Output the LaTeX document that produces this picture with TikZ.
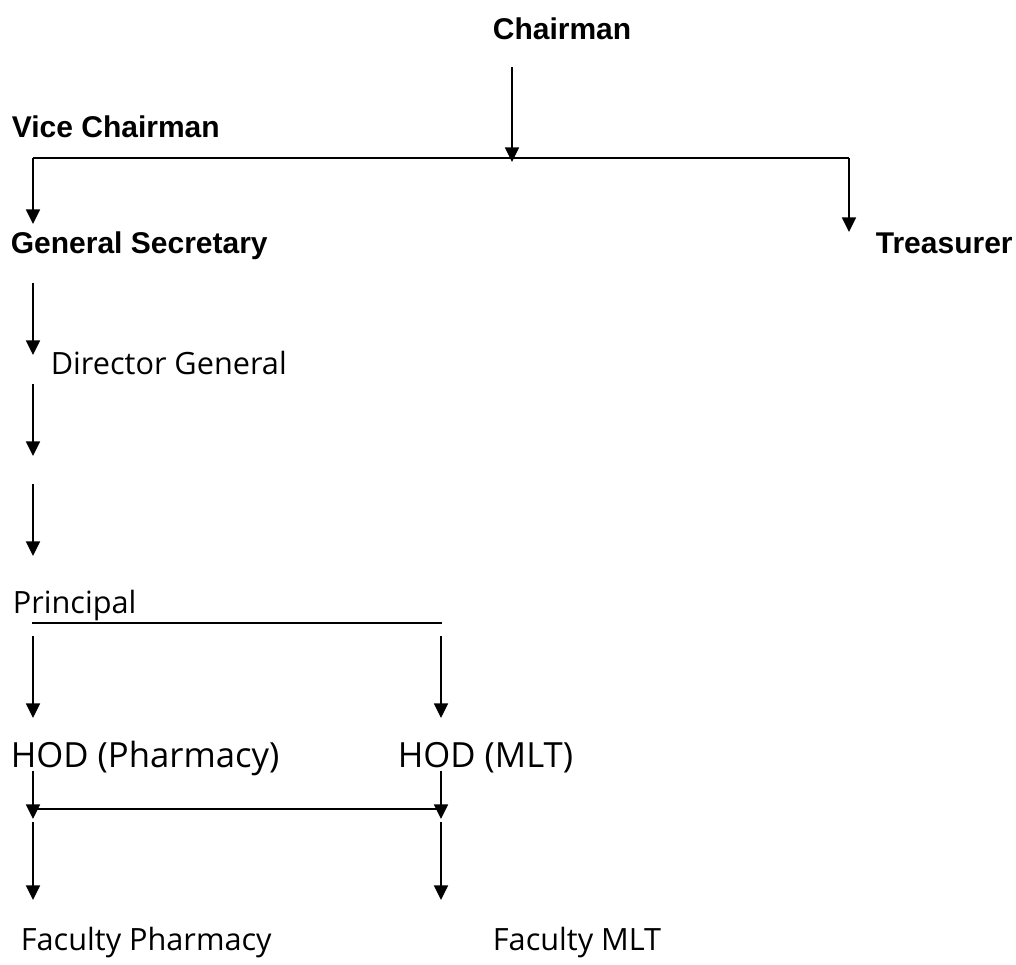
\documentclass[tikz,border=0pt]{standalone}
\usepackage{fontspec}
\setmainfont{Open Sans}
\newfontfamily\headfont{Liberation Sans}
\usepackage{tikz}
\usetikzlibrary{arrows.meta}

\begin{document}
\begin{tikzpicture}[x=0.75pt, y=-0.75pt, >={Triangle[length=11pt,width=10.5pt]}, line width=1.3pt,
	every node/.style={inner sep=0pt, anchor=base west},
	head/.style={font=\headfont\bfseries\fontsize{22.5}{27}\selectfont},
	post/.style={font=\fontsize{23}{28}\selectfont},
	hod/.style={font=\fontsize{26}{31}\selectfont}]
	\useasboundingbox (0,0) rectangle (1016,964);
	%Board
	\node [head] (chair) at (492,39) {Chairman};
	\node [head] (vice) at (11,137) {Vice Chairman};
	\node [head] (gensec) at (10,253) {General Secretary};
	\node [head] (treas) at (875,253) {Treasurer};
	\coordinate (chtop) at (512,67);
	\coordinate (chbar) at (512,162);
	\coordinate (barl) at (33,158);
	\coordinate (barr) at (849,158);
	\coordinate (gsin) at (33,224);
	\coordinate (trin) at (849,232);
	\draw[->] (chtop) -- (chbar);
	\draw (barl) -- (barr);
	\draw[->] (barl) -- (gsin);
	\draw[->] (barr) -- (trin);
	%Staff
	\node [post] (dirgen) at (50,374) {Director General};
	\node [post] (princ) at (12,613) {Principal};
	\coordinate (gsout) at (33,283);
	\coordinate (dgin) at (33,355);
	\coordinate (dgout) at (33,384);
	\coordinate (m1) at (33,456);
	\coordinate (m2) at (33,484);
	\coordinate (m3) at (33,556);
	\draw[->] (gsout) -- (dgin);
	\draw[->] (dgout) -- (m1);
	\draw[->] (m2) -- (m3);
	%Departments
	\node [hod] (hodph) at (10,767) {HOD (Pharmacy)};
	\node [hod] (hodmlt) at (397,767) {HOD (MLT)};
	\coordinate (prl) at (32,623);
	\coordinate (prr) at (442,623);
	\coordinate (phtop) at (33,636);
	\coordinate (phin) at (33,718);
	\coordinate (mltop) at (441,636);
	\coordinate (mlin) at (441,718);
	\draw (prl) -- (prr);
	\draw[->] (phtop) -- (phin);
	\draw[->] (mltop) -- (mlin);
	%Faculty
	\node [post] (facph) at (20,950) {Faculty Pharmacy};
	\node [post] (facmlt) at (492,950) {Faculty MLT};
	\coordinate (phout) at (33,771);
	\coordinate (phmid) at (33,819);
	\coordinate (mlout) at (441,771);
	\coordinate (mlmid) at (441,819);
	\coordinate (hdl) at (33,809);
	\coordinate (hdr) at (441,809);
	\coordinate (phdown) at (33,822);
	\coordinate (fpin) at (33,900);
	\coordinate (mldown) at (441,822);
	\coordinate (fmin) at (441,900);
	\draw[->] (phout) -- (phmid);
	\draw[->] (mlout) -- (mlmid);
	\draw (hdl) -- (hdr);
	\draw[->] (phdown) -- (fpin);
	\draw[->] (mldown) -- (fmin);
\end{tikzpicture}
\end{document}
